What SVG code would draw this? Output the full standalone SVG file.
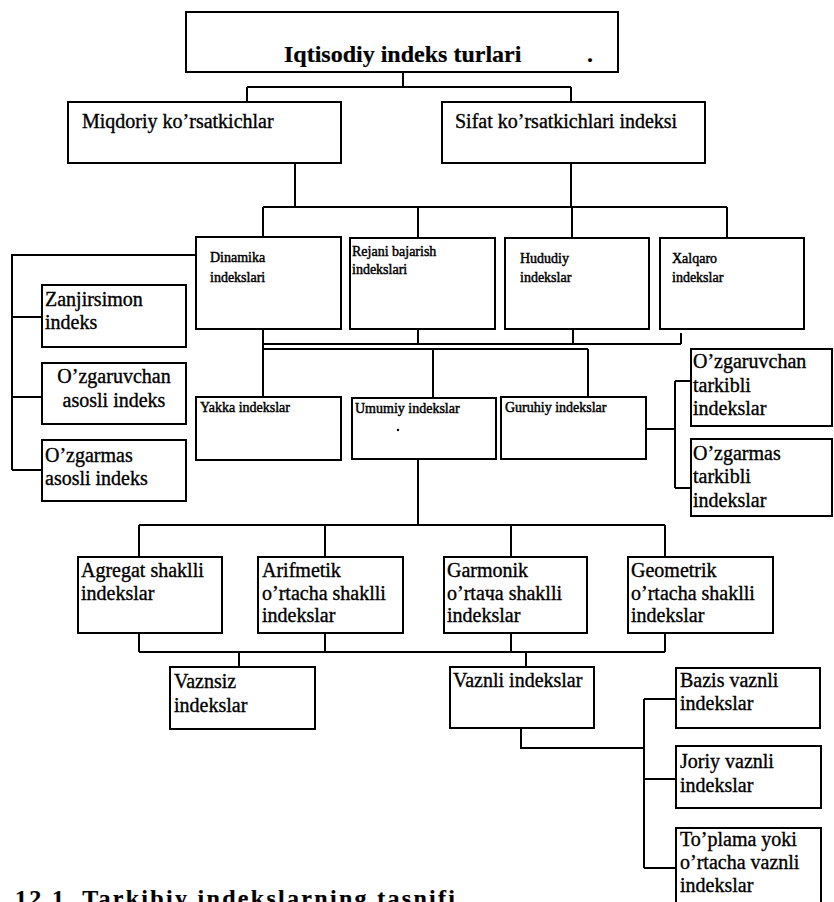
<svg xmlns="http://www.w3.org/2000/svg" width="834" height="902" viewBox="0 0 834 902">
<style>
.box{fill:#fff;stroke:#000;stroke-width:2}
.ln{fill:none;stroke:#000;stroke-width:2}
text{font-family:"Liberation Serif","Times New Roman",serif;fill:#000;stroke:#000;stroke-width:0.35}
.t{font-size:20px}
.s{font-size:14px;stroke-width:0.45}
.ti{font-size:24px;font-weight:bold;stroke-width:0.2}
.cap{font-size:24px;font-weight:bold;stroke-width:0.2}
</style>
<rect width="834" height="902" fill="#fff"/>
<g id="connectors">
<path class="ln" d="M403 72V87M247 87H571M247 87V102M571 87V102"/>
<path class="ln" d="M295 163V207M571 163V207M263 207H727M263 207V237M418 207V238M572 207V238M727 207V238"/>
<path class="ln" d="M196 255H12V470M12 317H42M12 397H42M12 470H42"/>
<path class="ln" d="M263 329V397M263 344H681M418 329V344M573 329V344M681 333V344M263 349H588M433 349V398M588 349V397"/>
<path class="ln" d="M646 429H675M675 381V488M675 381H691M675 488H691"/>
<path class="ln" d="M418 460V525M139 525H665M139 525V557M325 525V557M511 525V557M665 525V557"/>
<path class="ln" d="M139 633V652M325 633V652M511 633V652M665 633V652M139 652H665M239 652V667M526 652V667"/>
<path class="ln" d="M521 728V748H644M644 699V868M644 699H676M644 779H676M644 868H676"/>
</g>
<g id="n-title"><rect class="box" x="186" y="12" width="432" height="60"/><text class="ti" x="284" y="62">Iqtisodiy indeks turlari</text><text class="ti" x="587" y="62">.</text></g>
<g id="n-miqdoriy"><rect class="box" x="68" y="102" width="273" height="61"/><text class="t" x="82" y="128">Miqdoriy ko’rsatkichlar</text></g>
<g id="n-sifat"><rect class="box" x="442" y="102" width="263" height="61"/><text class="t" x="455" y="128">Sifat ko’rsatkichlari indeksi</text></g>
<g id="n-dinamika"><rect class="box" x="196" y="237" width="145" height="92"/><text class="s" x="210" y="262">Dinamika</text><text class="s" x="210" y="282">indekslari</text></g>
<g id="n-rejani"><rect class="box" x="350" y="238" width="145" height="91"/><text class="s" x="352" y="256">Rejani bajarish</text><text class="s" x="352" y="274">indekslari</text></g>
<g id="n-hududiy"><rect class="box" x="505" y="238" width="144" height="91"/><text class="s" x="520" y="263">Hududiy</text><text class="s" x="520" y="282">indekslar</text></g>
<g id="n-xalqaro"><rect class="box" x="660" y="238" width="144" height="91"/><text class="s" x="672" y="263">Xalqaro</text><text class="s" x="672" y="282">indekslar</text></g>
<g id="n-zanjir"><rect class="box" x="42" y="285" width="144" height="62"/><text class="t" x="45" y="306">Zanjirsimon</text><text class="t" x="45" y="329">indeks</text></g>
<g id="n-ozgaruvchan-asos"><rect class="box" x="42" y="363" width="144" height="61"/><text class="t" x="114" y="383" text-anchor="middle">O’zgaruvchan</text><text class="t" x="114" y="407" text-anchor="middle">asosli indeks</text></g>
<g id="n-ozgarmas-asos"><rect class="box" x="42" y="440" width="144" height="61"/><text class="t" x="45" y="462">O’zgarmas</text><text class="t" x="45" y="485">asosli indeks</text></g>
<g id="n-yakka"><rect class="box" x="196" y="397" width="145" height="63"/><text class="s" x="200" y="412">Yakka indekslar</text></g>
<g id="n-umumiy"><rect class="box" x="352" y="398" width="144" height="61"/><text class="s" x="355" y="413">Umumiy indekslar</text><circle cx="398" cy="430" r="1.2"/></g>
<g id="n-guruhiy"><rect class="box" x="501" y="397" width="145" height="62"/><text class="s" x="505" y="412">Guruhiy indekslar</text></g>
<g id="n-ozgaruvchan-tark"><rect class="box" x="691" y="349" width="141" height="77"/><text class="t" x="693" y="368">O’zgaruvchan</text><text class="t" x="693" y="392">tarkibli</text><text class="t" x="693" y="415">indekslar</text></g>
<g id="n-ozgarmas-tark"><rect class="box" x="691" y="439" width="141" height="77"/><text class="t" x="693" y="460">O’zgarmas</text><text class="t" x="693" y="483">tarkibli</text><text class="t" x="693" y="507">indekslar</text></g>
<g id="n-agregat"><rect class="box" x="78" y="557" width="144" height="76"/><text class="t" x="81" y="577">Agregat shaklli</text><text class="t" x="81" y="600">indekslar</text></g>
<g id="n-arifmetik"><rect class="box" x="258" y="557" width="145" height="76"/><text class="t" x="262" y="577">Arifmetik</text><text class="t" x="262" y="600">o’rtacha shaklli</text><text class="t" x="262" y="622">indekslar</text></g>
<g id="n-garmonik"><rect class="box" x="444" y="557" width="143" height="76"/><text class="t" x="447" y="577">Garmonik</text><text class="t" x="447" y="600">o’rtaчa shaklli</text><text class="t" x="447" y="622">indekslar</text></g>
<g id="n-geometrik"><rect class="box" x="628" y="557" width="145" height="76"/><text class="t" x="631" y="577">Geometrik</text><text class="t" x="631" y="600">o’rtacha shaklli</text><text class="t" x="631" y="622">indekslar</text></g>
<g id="n-vaznsiz"><rect class="box" x="170" y="667" width="145" height="62"/><text class="t" x="174" y="688">Vaznsiz</text><text class="t" x="174" y="712">indekslar</text></g>
<g id="n-vaznli"><rect class="box" x="450" y="667" width="144" height="61"/><text class="t" x="453" y="687">Vaznli indekslar</text></g>
<g id="n-bazis"><rect class="box" x="676" y="668" width="144" height="60"/><text class="t" x="680" y="687">Bazis vaznli</text><text class="t" x="680" y="710">indekslar</text></g>
<g id="n-joriy"><rect class="box" x="676" y="746" width="145" height="62"/><text class="t" x="680" y="768">Joriy vaznli</text><text class="t" x="680" y="792">indekslar</text></g>
<g id="n-toplama"><rect class="box" x="676" y="828" width="145" height="90"/><text class="t" x="680" y="846">To’plama yoki</text><text class="t" x="680" y="869">o’rtacha vaznli</text><text class="t" x="680" y="892">indekslar</text></g>
<text class="cap" x="15" y="906" textLength="440" lengthAdjust="spacing">12.1. Tarkibiy indekslarning tasnifi</text>
</svg>
